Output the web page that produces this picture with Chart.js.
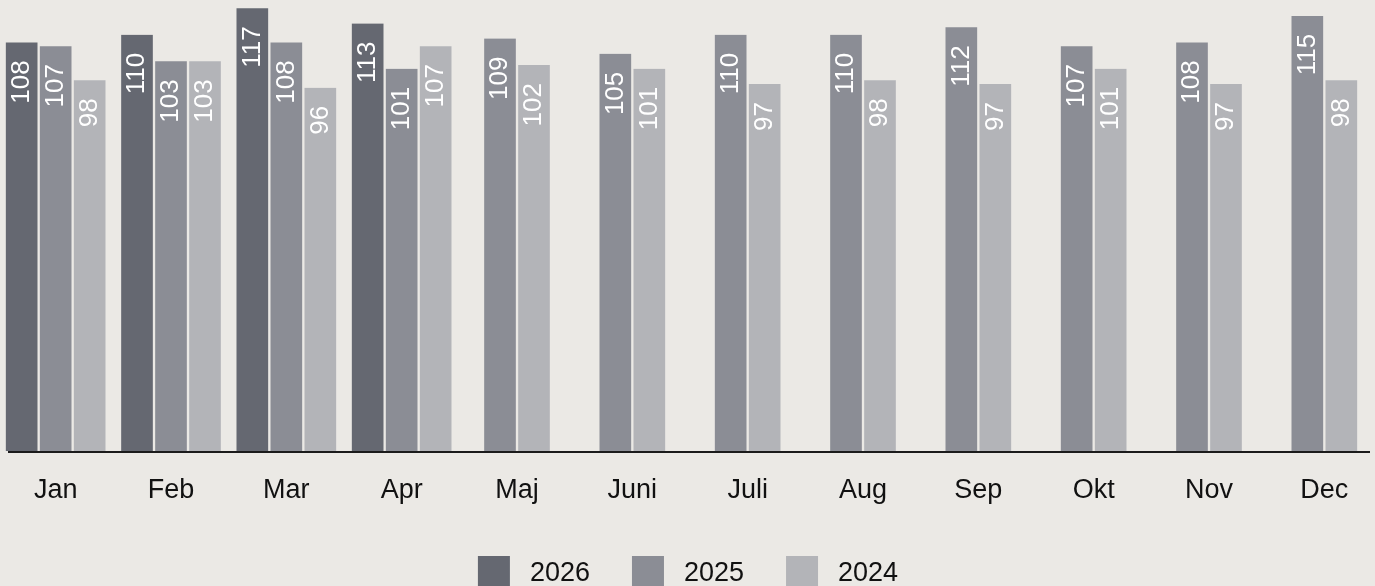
<!DOCTYPE html>
<html>
<head>
<meta charset="utf-8">
<script src="https://cdn.jsdelivr.net/npm/chart.js@4"></script>
<style>
  html, body { margin: 0; padding: 0; background: #ebe9e5; overflow: hidden; }
  #wrap { position: absolute; left: -2px; top: 0; width: 1384px; height: 586px; }
</style>
</head>
<body>
<div id="wrap"><canvas id="chart"></canvas></div>
<script>
const months = ['Jan', 'Feb', 'Mar', 'Apr', 'Maj', 'Juni', 'Juli', 'Aug', 'Sep', 'Okt', 'Nov', 'Dec'];
const years = ['2026', '2025', '2024'];
const values2026 = [108, 110, 117, 113, null, null, null, null, null, null, null, null];
const values2025 = [107, 103, 108, 101, 109, 105, 110, 110, 112, 107, 108, 115];
const values2024 = [98, 103, 96, 107, 102, 101, 97, 98, 97, 101, 97, 98];
const colors = ['#656871', '#8b8d95', '#b3b4b8'];

const FONT = '"Liberation Sans", Arial, sans-serif';

// white rotated numbers inside each bar, near its top
const barValues = {
  id: 'barValues',
  afterDatasetsDraw(chart) {
    const ctx = chart.ctx;
    ctx.save();
    ctx.font = '26px ' + FONT;
    ctx.fillStyle = '#ffffff';
    ctx.textAlign = 'right';
    ctx.textBaseline = 'middle';
    chart.data.datasets.forEach((ds, i) => {
      chart.getDatasetMeta(i).data.forEach((bar, j) => {
        const v = ds.data[j];
        if (v === null) return;
        ctx.save();
        ctx.translate(bar.x, bar.y);
        ctx.rotate(-Math.PI / 2);
        ctx.fillText(String(v), -18, 0);
        ctx.restore();
      });
    });
    ctx.restore();
  },
};

// black base line + legend squares underneath
const baseAndLegend = {
  id: 'baseAndLegend',
  afterDraw(chart) {
    const ctx = chart.ctx;
    const area = chart.chartArea;
    const y0 = chart.scales.y.getPixelForValue(0);
    ctx.save();
    ctx.strokeStyle = '#1b1b1b';
    ctx.lineWidth = 2;
    ctx.beginPath();
    ctx.moveTo(area.left + 10, y0 + 1);
    ctx.lineTo(area.right - 12, y0 + 1);
    ctx.stroke();

    ctx.font = '27px ' + FONT;
    const box = 32, gapText = 20, gapItem = 42;
    const widths = years.map((t) => box + gapText + ctx.measureText(t).width);
    const total = widths.reduce((a, b) => a + b, 0) + gapItem * (years.length - 1);
    let x = (area.left + area.right) / 2 - 2 - total / 2;
    const top = y0 + 105;
    ctx.textAlign = 'left';
    ctx.textBaseline = 'alphabetic';
    years.forEach((t, i) => {
      ctx.fillStyle = colors[i];
      ctx.fillRect(x, top, box, box);
      ctx.fillStyle = '#111111';
      ctx.fillText(t, x + box + gapText, top + 25);
      x += widths[i] + gapItem;
    });
    ctx.restore();
  },
};

const series = [values2026, values2025, values2024];

new Chart(document.getElementById('chart'), {
  type: 'bar',
  data: {
    labels: months,
    datasets: years.map((y, i) => ({
      label: y,
      data: series[i],
      backgroundColor: colors[i],
      borderColor: 'transparent',
      borderWidth: { left: 1.5, right: 1.5, top: 0, bottom: 0 },
      borderSkipped: false,
      barThickness: 34,
      skipNull: true,
    })),
  },
  options: {
    responsive: true,
    maintainAspectRatio: false,
    animation: false,
    layout: { padding: { top: 0, left: 0, right: 0, bottom: 64.6 } },
    plugins: {
      legend: { display: false },
      tooltip: { enabled: false },
    },
    scales: {
      x: {
        grid: { display: false },
        border: { display: false },
        ticks: {
          color: '#111111',
          padding: 15,
          font: { family: FONT, size: 27 },
          maxRotation: 0,
          autoSkip: false,
        },
      },
      y: {
        display: false,
        min: 0,
        max: 119.2,
      },
    },
  },
  plugins: [barValues, baseAndLegend],
});
</script>
</body>
</html>
